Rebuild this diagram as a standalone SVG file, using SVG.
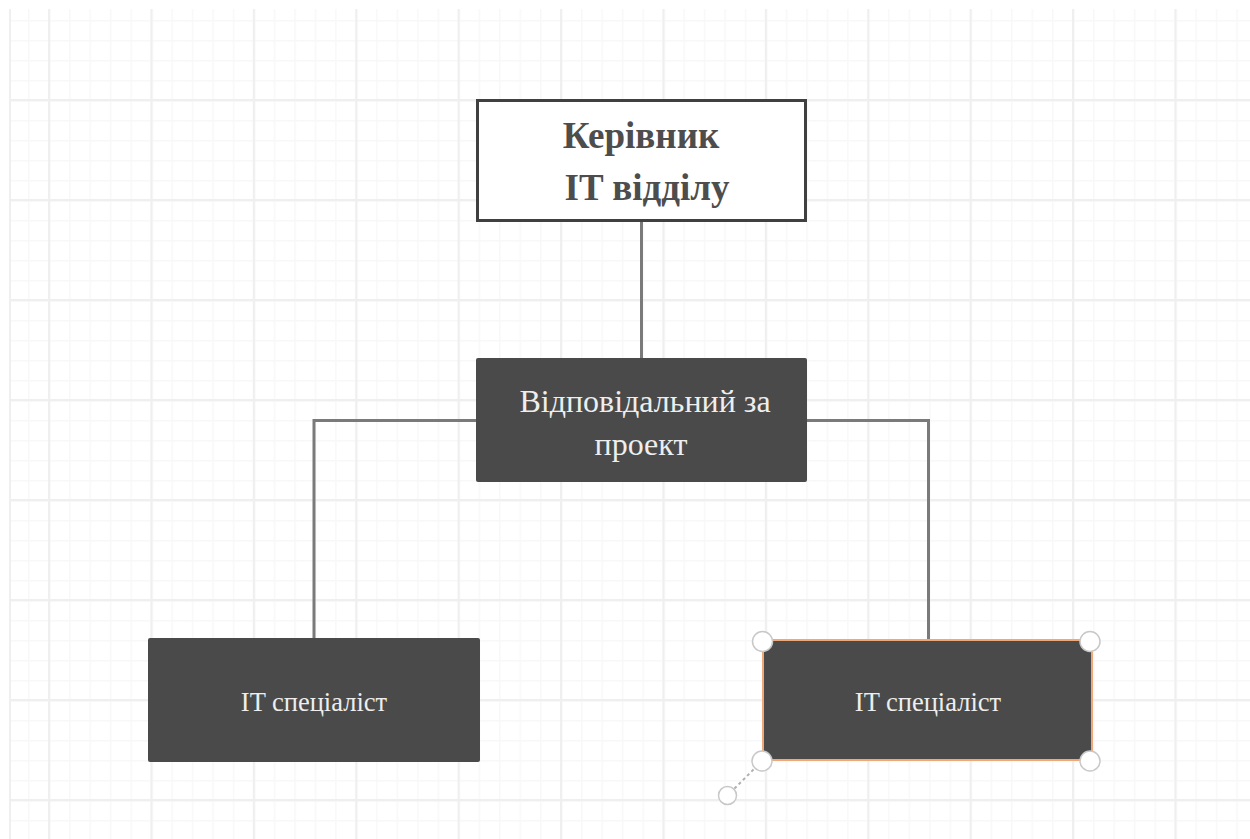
<svg xmlns="http://www.w3.org/2000/svg" width="1250" height="839" viewBox="0 0 1250 839">
  <defs>
    <pattern id="minor" x="7.5" y="0" width="20.48" height="20" patternUnits="userSpaceOnUse">
      <path d="M0.5 0V20M0 0.5H20.48" fill="none" stroke="#f8f8f8" stroke-width="2"/>
    </pattern>
    <pattern id="major" x="-54.4" y="-1" width="102.4" height="100" patternUnits="userSpaceOnUse">
      <path d="M1 0V100M0 1H102.4" fill="none" stroke="#efefef" stroke-width="2.5"/>
    </pattern>
    <style>
      .box { fill: #4a4a4a; }
      .wire { fill: none; stroke: #7a7a7a; stroke-width: 3; }
      .head { font-family: "Liberation Serif", "DejaVu Serif", serif; font-weight: bold; font-size: 37px; fill: #4d4d4d; text-anchor: middle; }
      .lbl { font-family: "Liberation Serif", "DejaVu Serif", serif; fill: #eeeeee; text-anchor: middle; }
      .handle { fill: #ffffff; stroke: #c8c8c8; stroke-width: 1.5; }
    </style>
  </defs>

  <!-- canvas -->
  <rect width="1250" height="839" fill="#ffffff"/>
  <g id="grid">
    <rect x="10" y="9" width="1240" height="830" fill="url(#minor)"/>
    <rect x="10" y="9" width="1240" height="830" fill="url(#major)"/>
    <line x1="10" y1="9" x2="10" y2="839" stroke="#efefef" stroke-width="2"/>
  </g>

  <!-- connectors -->
  <g id="connectors">
    <path class="wire" d="M641.5 221V358"/>
    <path class="wire" d="M476 420.5H314V638"/>
    <path class="wire" d="M807 420.5H928.5V640"/>
  </g>

  <!-- head of department -->
  <g id="node-head">
    <rect x="477.5" y="100.5" width="328" height="120" fill="#ffffff" stroke="#404040" stroke-width="3"/>
    <text class="head" x="641" y="148">Керівник</text>
    <text class="head" x="647" y="200">IT відділу</text>
  </g>

  <!-- project lead -->
  <g id="node-lead">
    <rect class="box" x="476" y="358" width="331" height="124" rx="2"/>
    <text class="lbl" x="645" y="412" font-size="32">Відповідальний за</text>
    <text class="lbl" x="641" y="455" font-size="32">проект</text>
  </g>

  <!-- specialists -->
  <g id="node-spec-left">
    <rect class="box" x="148" y="638" width="332" height="124" rx="2"/>
    <text class="lbl" x="314" y="711" font-size="26.5">IT спеціаліст</text>
  </g>

  <g id="node-spec-right">
    <rect class="box" x="763" y="640" width="329" height="120" stroke="#f0a878" stroke-width="2"/>
    <text class="lbl" x="928" y="711" font-size="26.5">IT спеціаліст</text>
    <!-- selection handles -->
    <line x1="762" y1="761" x2="727.5" y2="795.5" stroke="#b0b0b0" stroke-width="2" stroke-dasharray="3 3"/>
    <circle class="handle" cx="762.5" cy="641.5" r="10"/>
    <circle class="handle" cx="1090" cy="641.5" r="10"/>
    <circle class="handle" cx="762" cy="761" r="10"/>
    <circle class="handle" cx="1090" cy="761" r="10"/>
    <circle class="handle" cx="727.5" cy="795.5" r="9"/>
  </g>
</svg>
